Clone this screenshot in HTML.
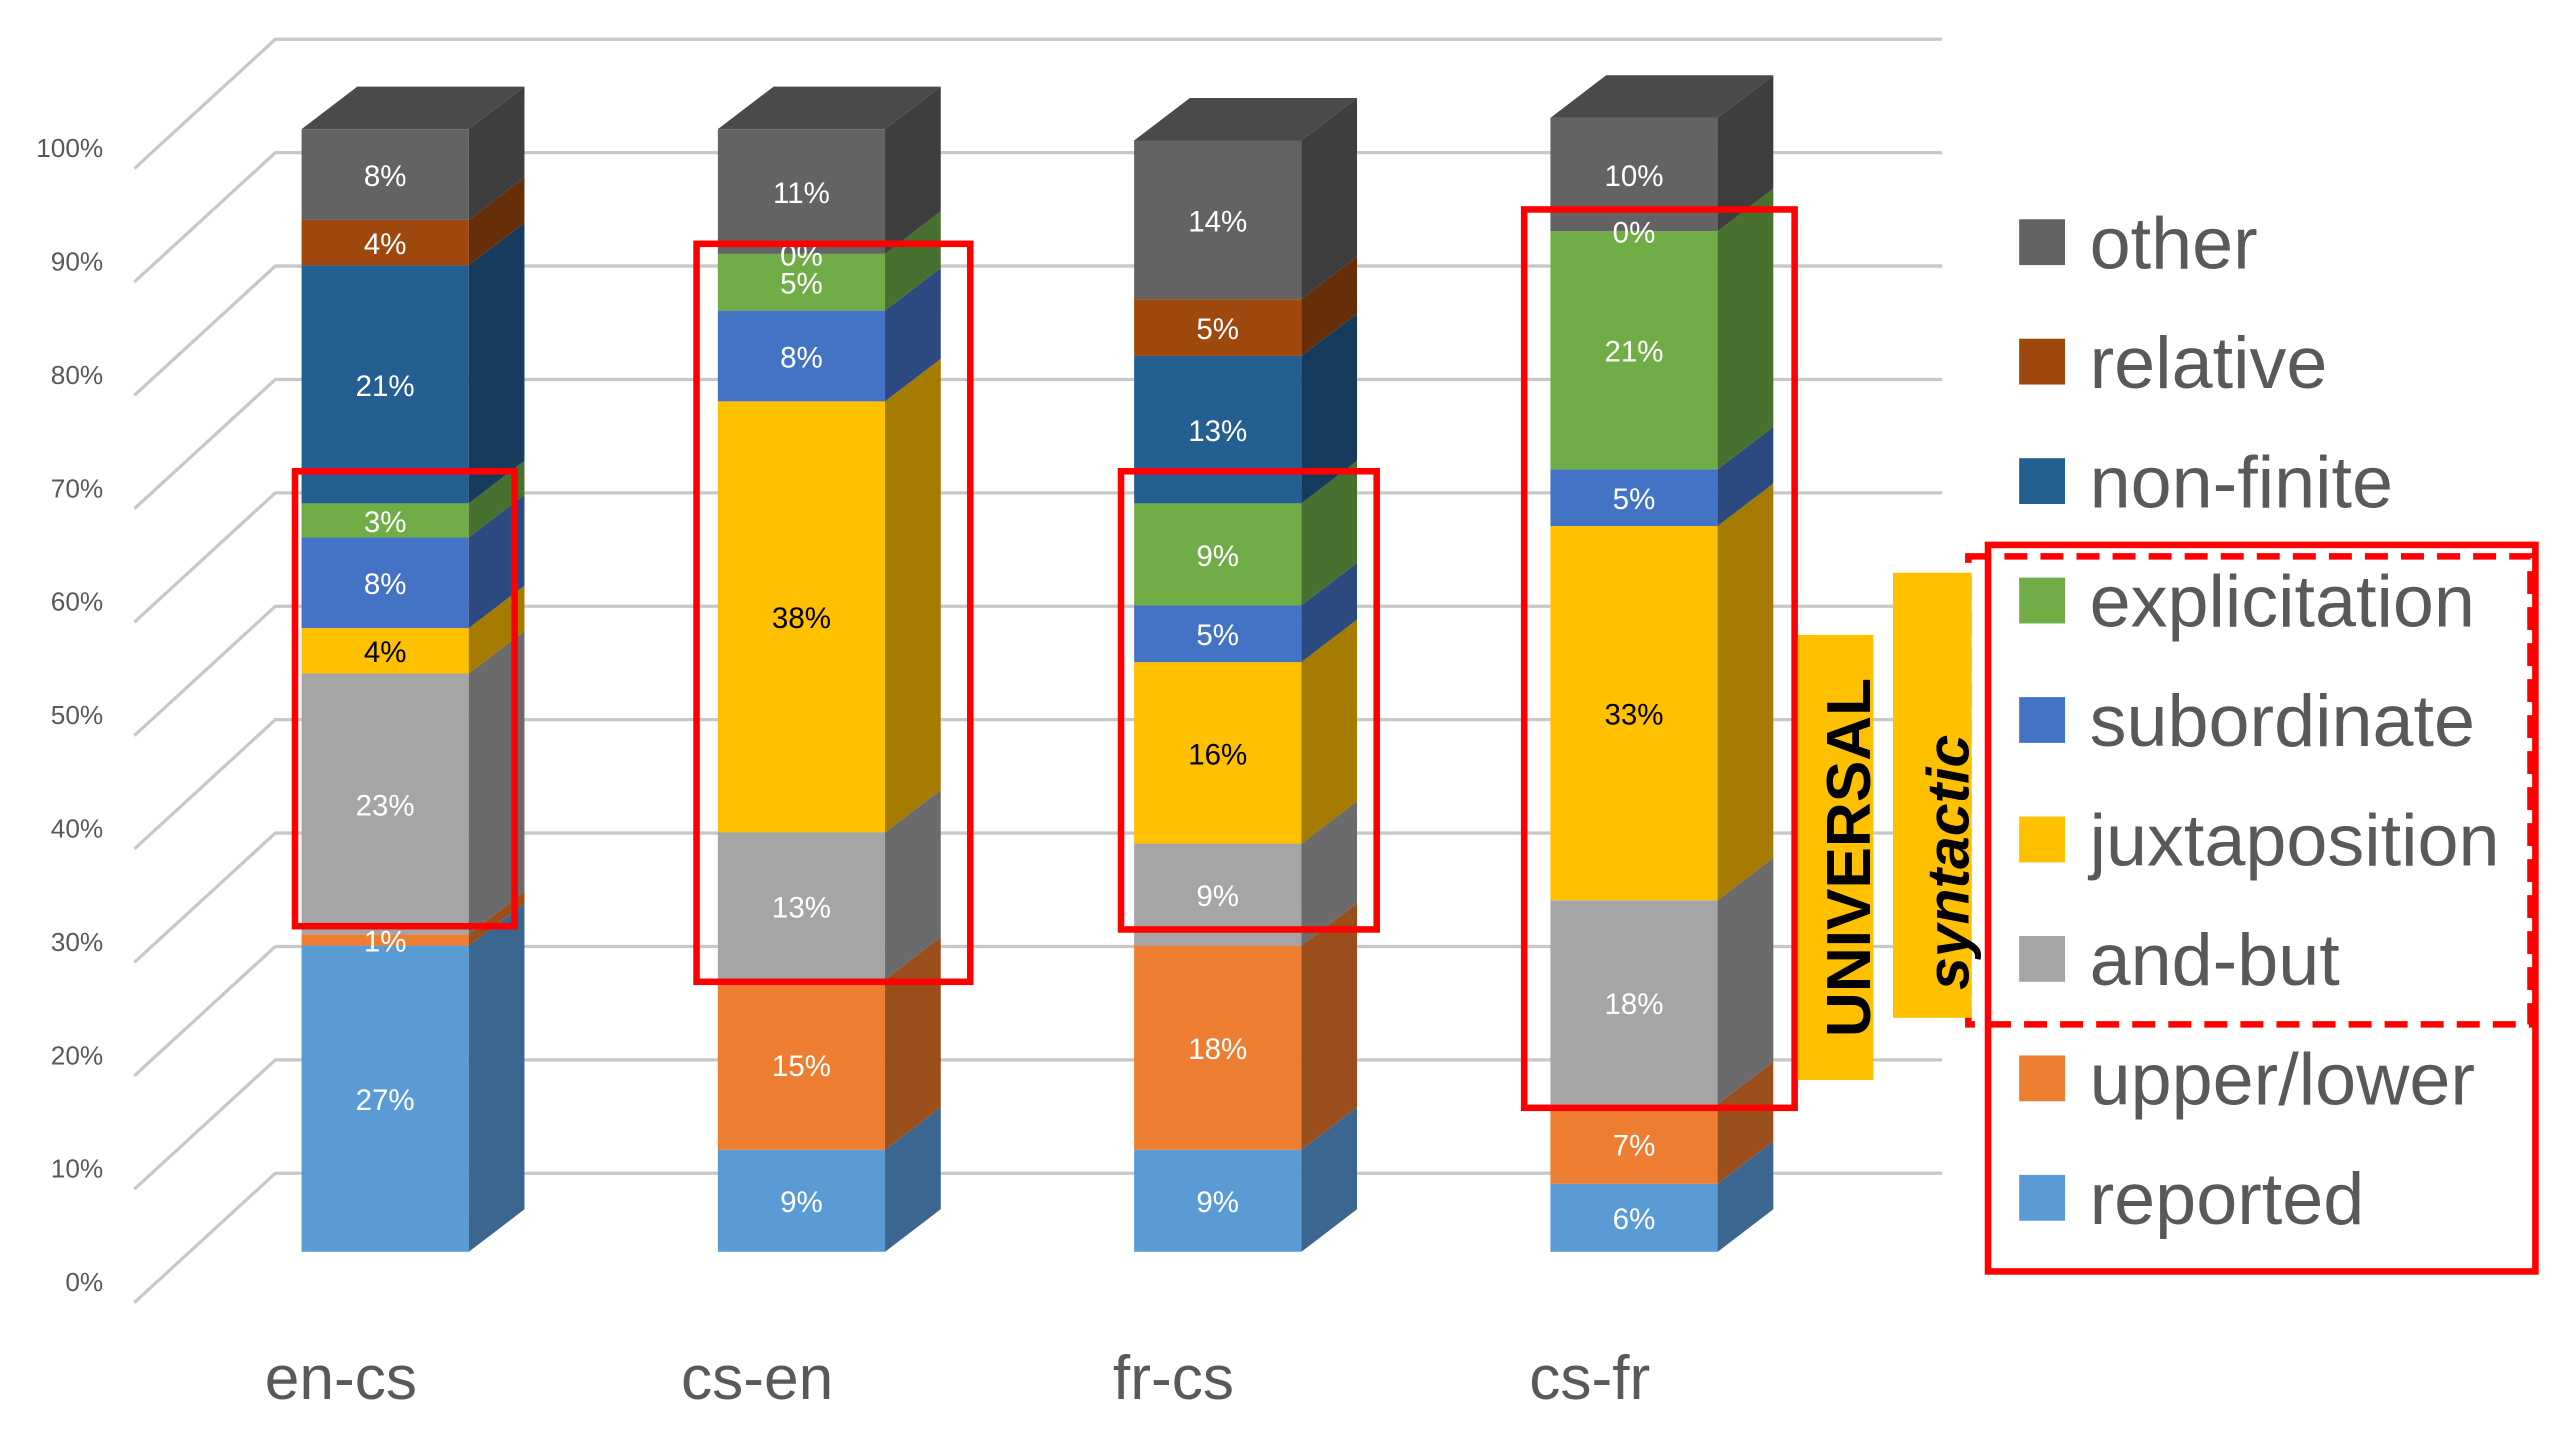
<!DOCTYPE html>
<html><head><meta charset="utf-8"><style>
html,body{margin:0;padding:0;background:#fff;width:2560px;height:1440px;overflow:hidden}
svg{display:block}
text{font-family:"Liberation Sans",sans-serif}
</style></head><body>
<svg id="chart" width="2560" height="1440" viewBox="0 0 1562 880" preserveAspectRatio="none" xmlns="http://www.w3.org/2000/svg">
<g id="grid"></g>
<g id="ylabels"></g>
<g id="bars"></g>
<g id="cats"></g>
<g id="legend"></g>
<g fill="none" stroke="#ff0000" stroke-width="4">
<rect x="180" y="288" width="134" height="278"/>
<rect x="425" y="149" width="167" height="451"/>
<rect x="684" y="288" width="156" height="280"/>
<rect x="930" y="128" width="165" height="549"/>
<rect x="1213" y="333" width="334" height="444"/>
<rect x="1201" y="340" width="343" height="286" stroke-dasharray="14,8"/>
</g>
<rect x="1097" y="388" width="46" height="272" fill="#ffc000"/>
<text transform="translate(1141,524) rotate(-90)" text-anchor="middle" font-size="38" font-weight="bold" fill="#000">UNIVERSAL</text>
<rect x="1155" y="350" width="48" height="272" fill="#ffc000"/>
<text transform="translate(1201,527) rotate(-90)" text-anchor="middle" font-size="36" font-weight="bold" font-style="italic" fill="#000">syntactic</text>
</svg>
<script>
const categories=["en-cs","cs-en","fr-cs","cs-fr"];
const seriesNames=["reported","upper/lower","and-but","juxtaposition","subordinate","explicitation","non-finite","relative","other"];
const reported=[27,9,9,6];
const upperLower=[1,15,18,7];
const andBut=[23,13,9,18];
const juxtaposition=[4,38,16,33];
const subordinate=[8,8,5,5];
const explicitation=[3,5,9,21];
const nonFinite=[21,0,13,0];
const relative=[4,0,5,0];
const other=[8,11,14,10];
const yTicks=[0,10,20,30,40,50,60,70,80,90,100];
const series=[reported,upperLower,andBut,juxtaposition,subordinate,explicitation,nonFinite,relative,other];
const colors=["#5b9bd5","#ed7d31","#a5a5a5","#ffc000","#4472c4","#70ad47","#255e91","#9e480e","#636363"];
const sides=["#3a6690","#9a4e1c","#6b6b6b","#a67c00","#2c4a80","#48702e","#173b5c","#662e09","#3e3e3e"];
const textCol=["#fff","#fff","#fff","#000","#fff","#fff","#fff","#fff","#fff"];
const NS="http://www.w3.org/2000/svg";
function el(t,a,p){const e=document.createElementNS(NS,t);for(const k in a)e.setAttribute(k,a[k]);p.appendChild(e);return e;}
const yFront=v=>90+(100-v)*6.93;
const yBack=v=>24+(100-v)*6.93;
const yBar=v=>765-v*6.93;
const xBar=i=>184+i*254;
const BW=102,DX=34,DY=26;
const grid=document.getElementById('grid'),yl=document.getElementById('ylabels');
yTicks.forEach(v=>{
 const p=el('polyline',{points:`82,${yFront(v)+13} 168,${yBack(v)} 1185,${yBack(v)}`,fill:'none',stroke:'#c8c8c8','stroke-width':2},grid);
 
 
 const t=el('text',{x:63,y:yFront(v)+6,'text-anchor':'end','font-size':16,fill:'#595959'},yl);
 
 
 t.textContent=v+'%';
});
const bars=document.getElementById('bars'),cats=document.getElementById('cats');
categories.forEach((c,i)=>{
 const g=el('g',{},bars);
 
 
 const x=xBar(i);let cum=0;
 series.forEach((s,k)=>{
  const v=s[i],y0=yBar(cum),y1=yBar(cum+v);
  const f=el('rect',{x:x,y:y1,width:BW,height:Math.max(0,y0-y1),fill:colors[k]},g);
  
  
  const sd=el('polygon',{points:`${x+BW},${y0} ${x+BW+DX},${y0-DY} ${x+BW+DX},${y1-DY} ${x+BW},${y1}`,fill:sides[k]},g);
  
  
  cum+=v;
 });
 const yt=yBar(cum);
 const top=el('polygon',{points:`${x},${yt} ${x+DX},${yt-DY} ${x+BW+DX},${yt-DY} ${x+BW},${yt}`,fill:'#4a4a4a'},g);
 
 
 cum=0;
 series.forEach((s,k)=>{
  const v=s[i];const ym=yBar(cum+v/2);cum+=v;
  if(v===0&&k!==7)return;
  const t=el('text',{x:x+BW/2,y:ym+7,'text-anchor':'middle','font-size':18,fill:textCol[k]},g);
  
  
  t.textContent=v+'%';
 });
 const ct=el('text',{x:x+24,y:855,'text-anchor':'middle','font-size':38,fill:'#595959'},cats);
 
 
 ct.textContent=c;
});
const lg=document.getElementById('legend');
for(let k=8;k>=0;k--){
 const y=148+(8-k)*73;
 const sq=el('rect',{x:1232,y:y-14,width:28,height:28,fill:colors[k]},lg);
 
 
 const t=el('text',{x:1275,y:y+16,'font-size':45,fill:'#595959'},lg);
 
 
 t.textContent=seriesNames[k];
}
</script>
</body></html>
